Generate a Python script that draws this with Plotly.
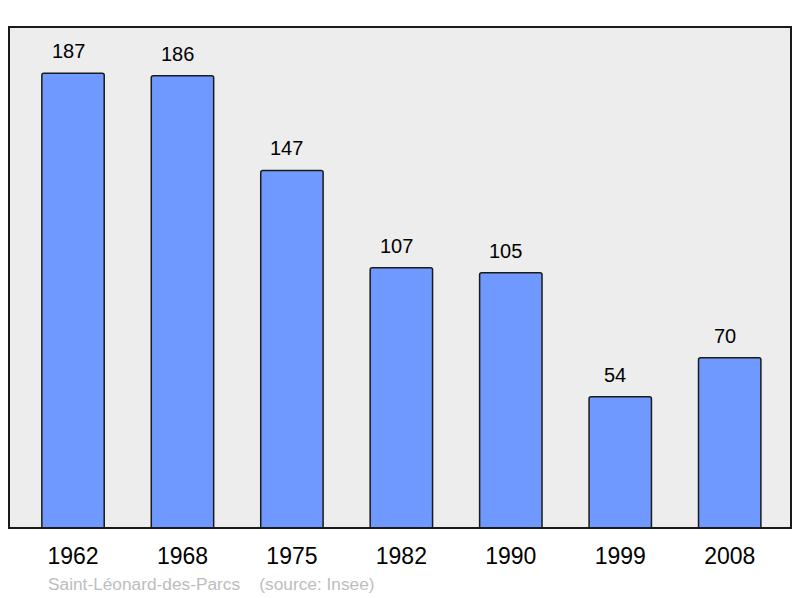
import plotly.graph_objects as go

years = ["1962", "1968", "1975", "1982", "1990", "1999", "2008"]
population = [187, 186, 147, 107, 105, 54, 70]
caption = "Saint-Léonard-des-Parcs    (source: Insee)"

W, H = 800, 598
L, R, T, B = 9, 9, 27, 70

fig = go.Figure()
fig.add_trace(go.Bar(
    x=list(range(len(years))), y=population,
    marker=dict(color="#7099FF", line=dict(color="#1a1a1a", width=1.5), cornerradius=2),
    width=0.57,
    hoverinfo="skip",
))

for i, v in enumerate(population):
    fig.add_annotation(x=i, y=v, text=str(v), showarrow=False, yanchor="bottom",
                       yshift=9, xshift=-5, font=dict(size=20, color="#000000",
                                                      family="Liberation Sans, Arial, sans-serif"))

fig.add_annotation(xref="paper", yref="paper", x=(46 - L) / (W - L - R), y=(H - B - 584) / (H - T - B),
                   xanchor="left", yanchor="middle", text=caption, showarrow=False,
                   font=dict(size=17.3, color="#BDBDBD", family="Liberation Sans, Arial, sans-serif"))

fig.add_shape(type="rect", xref="paper", yref="paper", x0=0, y0=0, x1=1, y1=1,
              line=dict(color="#1a1a1a", width=2), layer="above")

fig.update_layout(
    width=W, height=H,
    margin=dict(l=L, r=R, t=T, b=B),
    paper_bgcolor="#FFFFFF",
    plot_bgcolor="#EDEDED",
    showlegend=False,
    font=dict(family="Liberation Sans, Arial, sans-serif", color="#000000"),
    xaxis=dict(range=[-0.585, 6.56], showgrid=False, zeroline=False,
               tickmode="array", tickvals=list(range(len(years))), ticktext=years,
               showline=False, ticks="", tickfont=dict(size=23), ticklabelstandoff=12,
               fixedrange=True),
    yaxis=dict(range=[0, 206], showgrid=False, zeroline=False, showticklabels=False,
               showline=False, ticks="", fixedrange=True),
)

fig.write_html("out.html", config={"displayModeBar": False},
               post_script="document.body.style.margin='0';document.body.style.overflow='hidden';")
